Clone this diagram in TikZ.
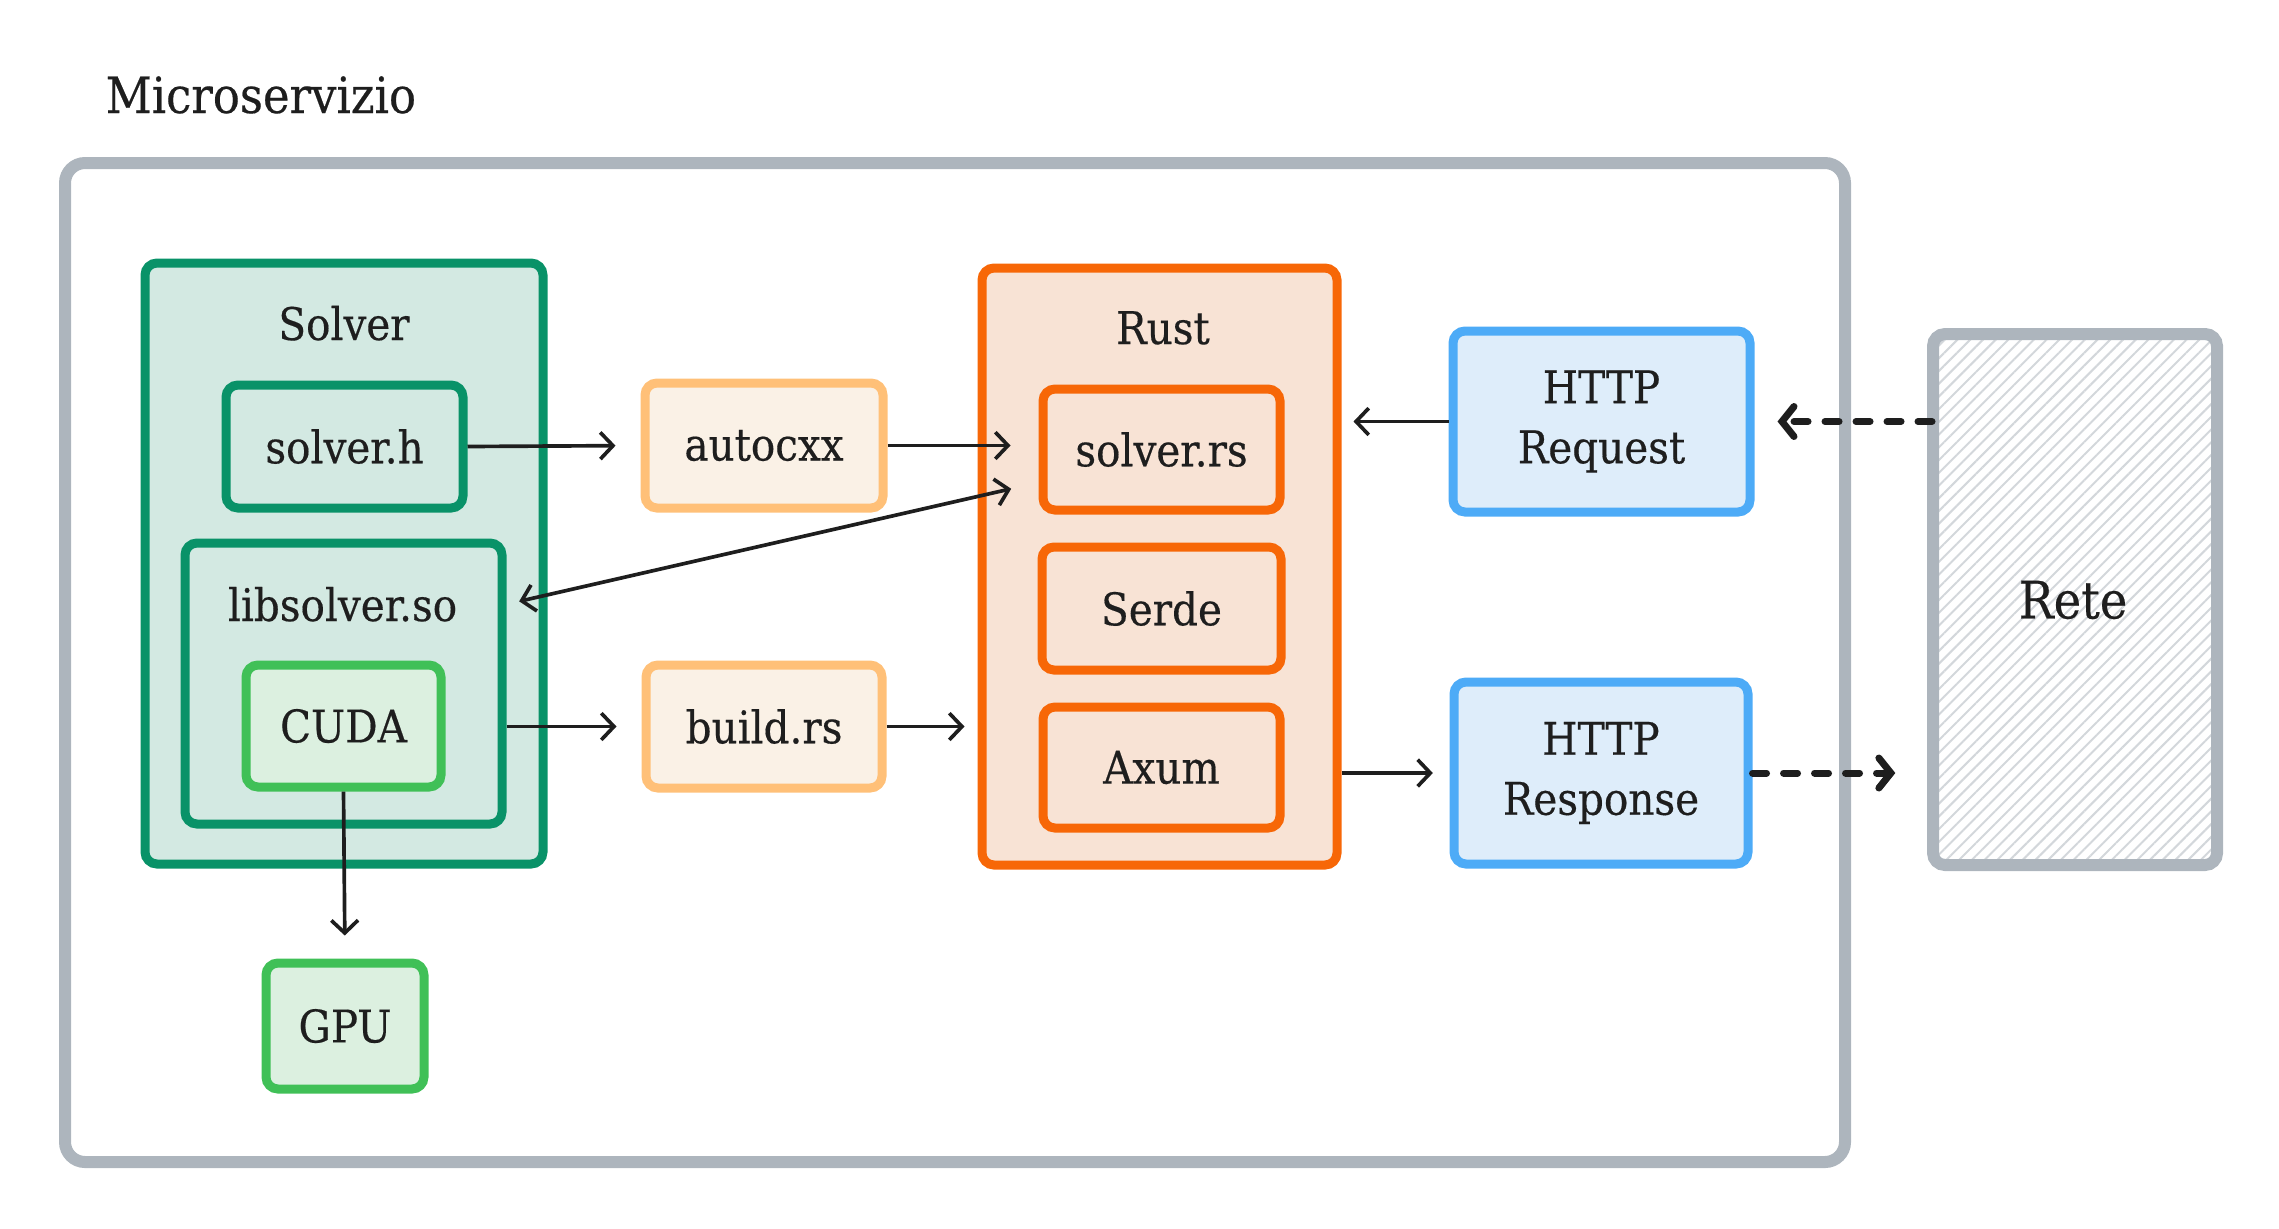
\documentclass[tikz,border=0pt]{standalone}
\usepackage{fontspec}
\setmainfont{DejaVu Serif Condensed}[FakeBold=0.35]
\usetikzlibrary{arrows.meta,patterns.meta}

\definecolor{ink}{HTML}{1E1E1E}
\definecolor{frameline}{HTML}{ADB5BD}
\definecolor{hatch}{HTML}{D3D7DB}
\definecolor{solverline}{HTML}{099268}
\definecolor{solverfill}{HTML}{D3E9E2}
\definecolor{cudaline}{HTML}{40C057}
\definecolor{cudafill}{HTML}{DCF0E0}
\definecolor{bridgeline}{HTML}{FFC078}
\definecolor{bridgefill}{HTML}{FAF1E6}
\definecolor{rustline}{HTML}{F76707}
\definecolor{rustfill}{HTML}{F8E3D5}
\definecolor{httpline}{HTML}{4DABF7}
\definecolor{httpfill}{HTML}{DEEDFA}

\tikzset{
    box/.style={draw, rounded corners=3.6pt, line width=2.7pt, inner sep=0pt,
        align=center, text=ink, font=\fontsize{13.5}{18}\selectfont},
    solverbox/.style={box, draw=solverline, fill=solverfill},
    cudabox/.style={box, draw=cudaline, fill=cudafill},
    bridgebox/.style={box, draw=bridgeline, fill=bridgefill},
    rustbox/.style={box, draw=rustline, fill=rustfill},
    httpbox/.style={box, draw=httpline, fill=httpfill},
    title/.style={text=ink, inner sep=0pt, font=\fontsize{13.5}{18}\selectfont},
    link/.style={draw=ink, line width=1.1pt,
        -{Straight Barb[length=3.8pt,width=8pt]}},
    netlink/.style={draw=ink, line width=2.1pt, line cap=round,
        dash pattern=on 4.2pt off 5.1pt,
        -{Straight Barb[length=3.6pt,width=9pt,line cap=round]}},
}

\begin{document}
\begin{tikzpicture}[x=0.3pt, y=-0.3pt]
    \useasboundingbox (0,0) rectangle (2279,1228);

    % frame of the service
    \node[draw=frameline, line width=3.6pt, rounded corners=6pt,
        minimum width=534pt, minimum height=299.7pt] (frame) at (955,662.5) {};
    \node[title, anchor=base west, font=\fontsize{15}{18}\selectfont]
        (frametitle) at (105,113) {Microservizio};

    % solver side
    \node[solverbox, minimum width=119.4pt, minimum height=180.3pt] (solver) at (344,563.5) {};
    \node[title, anchor=base] (solvertitle) at (344,340) {Solver};
    \node[solverbox, minimum width=71.1pt, minimum height=36.9pt] (solverh) at (344.5,446.5) {solver.h};
    \node[solverbox, minimum width=95.1pt, minimum height=84.3pt] (libso) at (343.5,683.5) {};
    \node[title, anchor=base] (libsotitle) at (342.5,621) {libsolver.so};
    \node[cudabox, minimum width=58.5pt, minimum height=36.6pt] (cuda) at (343.5,726) {CUDA};
    \node[cudabox, minimum width=47.4pt, minimum height=37.8pt] (gpu) at (345,1026) {GPU};

    % bindings
    \node[bridgebox, minimum width=71.4pt, minimum height=37.5pt] (autocxx) at (764,445.5) {autocxx};
    \node[bridgebox, minimum width=70.8pt, minimum height=36.9pt] (buildrs) at (764,726.5) {build.rs};

    % rust side
    \node[rustbox, minimum width=106.5pt, minimum height=179.1pt] (rust) at (1159.5,566.5) {};
    \node[title, anchor=base] (rusttitle) at (1163,344) {Rust};
    \node[rustbox, minimum width=71.1pt, minimum height=36.3pt] (solverrs) at (1161.5,449.5) {solver.rs};
    \node[rustbox, minimum width=71.7pt, minimum height=36.9pt] (serde) at (1161.5,608.5) {Serde};
    \node[rustbox, minimum width=71.1pt, minimum height=36.3pt] (axum) at (1161.5,767.5) {Axum};

    % http
    \node[httpbox, minimum width=89.1pt, minimum height=54.3pt] (request) at (1601.5,421.5) {HTTP\\Request};
    \node[httpbox, minimum width=88.2pt, minimum height=54.6pt] (response) at (1601,773) {HTTP\\Response};

    % network
    \node[box, draw=frameline, line width=3.6pt, pattern={Lines[angle=45,distance=2.7pt,line width=0.6pt]},
        pattern color=hatch, minimum width=85.2pt, minimum height=159.3pt] (rete) at (2075,599.5) {};
    \node[title, font=\fontsize{15.5}{18}\selectfont] (retetitle) at (2073,600) {Rete};

    % connectors
    \draw[link, shorten >=7.5pt] (solverh.east) -- (autocxx.west);
    \draw[link, shorten >=8.4pt] (autocxx.east) -- (autocxx.east -| solverrs.west);
    \draw[link, {Straight Barb[length=3.8pt,width=8pt]}-{Straight Barb[length=3.8pt,width=8pt]},
        shorten <=3.9pt, shorten >=8.4pt]
        (libso.east |- libsotitle.center) -- ([yshift=9.6pt]solverrs.south west);
    \draw[link, shorten >=7.5pt] (buildrs.west -| libso.east) -- (buildrs.west);
    \draw[link, shorten >=3.9pt] (buildrs.east) -- (buildrs.east -| rust.west);
    \draw[link, shorten >=6.9pt] (cuda.south) -- (gpu.north);
    \draw[link, shorten >=3.6pt] (request.west) -- (request.west -| rust.east);
    \draw[link, shorten >=5pt] (response.west -| rust.east) -- (response.west);
    \draw[netlink, shorten >=6.9pt] (rete.west |- request.east) -- (request.east);
    \draw[netlink, shorten >=11pt] (response.east) -- (response.east -| rete.west);
\end{tikzpicture}
\end{document}
